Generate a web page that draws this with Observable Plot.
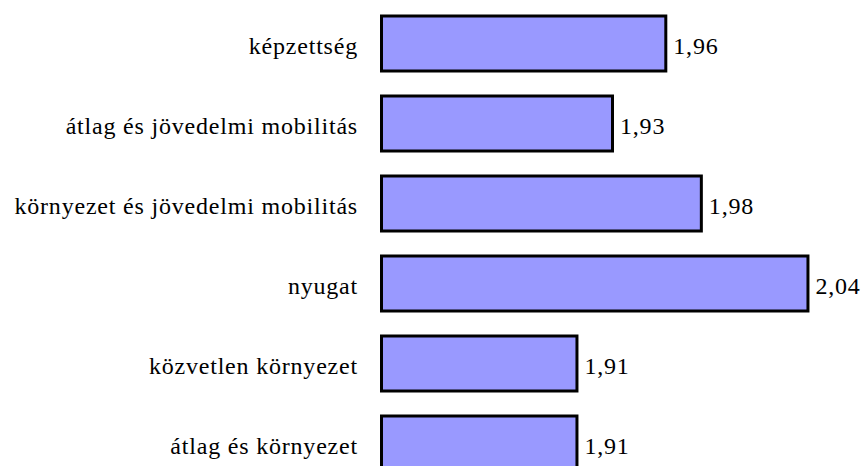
<!DOCTYPE html>
<html>
<head>
<meta charset="utf-8">
<script src="https://cdn.jsdelivr.net/npm/d3@7"></script>
<script src="https://cdn.jsdelivr.net/npm/@observablehq/plot@0.6"></script>
<style>
  html, body { margin: 0; padding: 0; background: white; overflow: hidden; }
  #chart { width: 861px; height: 466px; overflow: hidden; }
</style>
</head>
<body>
<div id="chart"></div>
<script>
const categories = [
  "képzettség",
  "átlag és jövedelmi mobilitás",
  "környezet és jövedelmi mobilitás",
  "nyugat",
  "közvetlen környezet",
  "átlag és környezet"
];
const values = [1.96, 1.93, 1.98, 2.04, 1.91, 1.91];
const xDomain = [1.8, 2.06];

const data = categories.map((c, i) => ({label: c, value: values[i]}));
const fmt = v => v.toFixed(2).replace(".", ",");
const font = "Liberation Serif";

const plot = Plot.plot({
  width: 861,
  height: 466,
  marginLeft: 381.5,
  marginRight: 17.5,
  marginTop: 0,
  marginBottom: 0,
  style: {fontFamily: font, fontSize: "24px"},
  x: {domain: xDomain, axis: null},
  y: {domain: categories, range: [3, 483], paddingInner: 0.3125, paddingOuter: 0.15625, axis: null},
  marks: [
    Plot.barX(data, {x1: xDomain[0], x2: "value", y: "label", fill: "#9999FF", stroke: "black", strokeWidth: 3}),
    Plot.text(data, {y: "label", text: "label", frameAnchor: "left", textAnchor: "end", dx: -24, dy: 2,
      fontSize: 24, fontFamily: font, fill: "black"}),
    Plot.text(data, {x: "value", y: "label", text: d => fmt(d.value), textAnchor: "start", dx: 7, dy: 2,
      fontSize: 24, fontFamily: font, fill: "black"})
  ]
});
plot.querySelectorAll("g[aria-label=text] text").forEach(t => t.style.letterSpacing = "0.8px");
document.getElementById("chart").appendChild(plot);
</script>
</body>
</html>
